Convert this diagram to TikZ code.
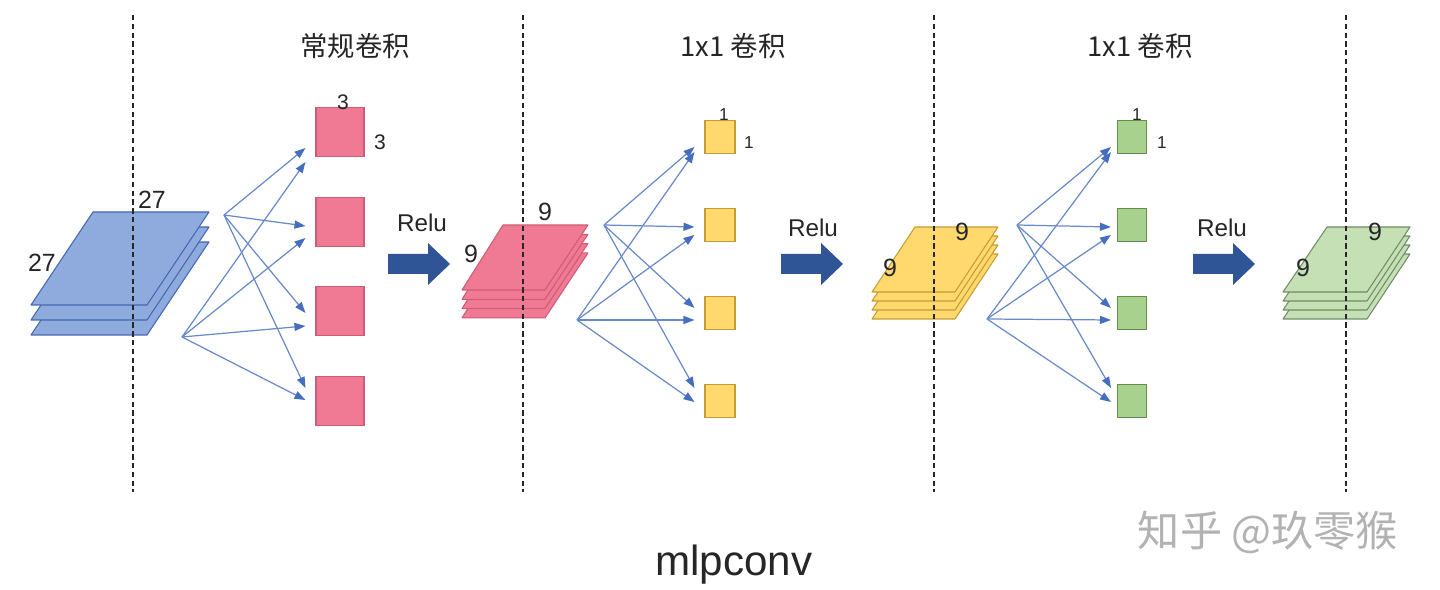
\documentclass[tikz,border=0pt]{standalone}
\usepackage{fontspec}
\setmainfont{Liberation Sans}
\newfontfamily\cjk{Noto Sans CJK SC}
\usetikzlibrary{arrows.meta}
\definecolor{layblue}{RGB}{143,170,220}
\definecolor{edgeblue}{RGB}{68,104,176}
\definecolor{laypink}{RGB}{240,122,148}
\definecolor{edgepink}{RGB}{205,92,118}
\definecolor{layyellow}{RGB}{255,217,110}
\definecolor{edgeyellow}{RGB}{196,158,50}
\definecolor{laygreen}{RGB}{197,224,180}
\definecolor{edgegreen}{RGB}{112,140,104}
\definecolor{boxgreen}{RGB}{169,209,142}
\definecolor{boxgreenedge}{RGB}{100,140,80}
\definecolor{relublue}{RGB}{47,85,151}
\definecolor{linkblue}{RGB}{105,138,200}
\definecolor{linkhead}{RGB}{70,110,190}

\begin{document}
\begin{tikzpicture}
  [x=0.02cm, y=-0.02cm,
   link/.style={linkblue, line width=0.7pt, -{Triangle[length=2.2mm,width=1.6mm,color=linkhead]}},
   layer/.style={line width=0.6pt, line join=round},
   kernel/.style={inner sep=0pt, line width=0.6pt},
   pinkbox/.style={kernel, draw=edgepink, fill=laypink, minimum width=0.96cm, minimum height=0.98cm},
   yellowbox/.style={kernel, draw=edgeyellow, fill=layyellow, minimum width=0.6cm, minimum height=0.66cm},
   greenbox/.style={kernel, draw=boxgreenedge, fill=boxgreen, minimum width=0.58cm, minimum height=0.66cm},
   dimbig/.style={font=\fontsize{14.2}{16}\selectfont, text=black!85, inner sep=0pt},
   dimmid/.style={font=\fontsize{12}{14}\selectfont, text=black!85, inner sep=0pt},
   dimsmall/.style={font=\fontsize{9.8}{12}\selectfont, text=black!85, inner sep=0pt},
   relutext/.style={font=\fontsize{13.8}{16}\selectfont, text=black!85},
   title/.style={font=\cjk\fontsize{15.6}{18}\selectfont, text=black!85},
   sep/.style={black!85, line width=0.6pt, dash pattern=on 3pt off 2pt}]
  \useasboundingbox (0,0) rectangle (1440,590);

  \node[pinkbox] (p1) at (340,132) {};
  \node[pinkbox] (p2) at (340,222) {};
  \node[pinkbox] (p3) at (340,311) {};
  \node[pinkbox] (p4) at (340,401) {};
  \node[yellowbox] (y1) at (720,137) {};
  \node[yellowbox] (y2) at (720,225) {};
  \node[yellowbox] (y3) at (720,313) {};
  \node[yellowbox] (y4) at (720,401) {};
  \node[greenbox] (g1) at (1132,137) {};
  \node[greenbox] (g2) at (1132,225) {};
  \node[greenbox] (g3) at (1132,313) {};
  \node[greenbox] (g4) at (1132,401) {};

  \coordinate (bu) at (224,215);
  \coordinate (bl) at (182,337);
  \coordinate (pu) at (604,225);
  \coordinate (pl) at (577,320);
  \coordinate (yu) at (1017,225);
  \coordinate (yl) at (987,319);

  \foreach \n/\dy in {1/16,2/4,3/2,4/-13}
  \draw[link] (bu) -- ([shift={(-10,\dy)}]p\n.west);
  \foreach \n/\dy in {1/30,2/16,3/15,4/-1}
  \draw[link] (bl) -- ([shift={(-10,\dy)}]p\n.west);
  \foreach \n/\dy in {1/10,2/2,3/-5,4/-13}
  {\draw[link] (pu) -- ([shift={(-10,\dy)}]y\n.west);
   \draw[link] (yu) -- ([shift={(-6,\dy)}]g\n.west);}
  \foreach \n/\dy in {1/15,2/10,3/7,4/1}
  {\draw[link] (pl) -- ([shift={(-10,\dy)}]y\n.west);
   \draw[link] (yl) -- ([shift={(-6,\dy)}]g\n.west);}

  \foreach \k in {2,1,0}
  \draw[layer, draw=edgeblue, fill=layblue] (93,{212+15*\k}) -- ++(116,0) -- ++(-62,93) -- ++(-116,0) -- cycle;
  \foreach \k in {3,2,1,0}
  {\draw[layer, draw=edgepink, fill=laypink] (503,{225+9.3*\k}) -- ++(85,0) -- ++(-43,65) -- ++(-83,0) -- cycle;
   \draw[layer, draw=edgeyellow, fill=layyellow] (915,{227+9*\k}) -- ++(83,0) -- ++(-43,65) -- ++(-83,0) -- cycle;
   \draw[layer, draw=edgegreen, fill=laygreen] (1327,{227+9*\k}) -- ++(83,0) -- ++(-43,65) -- ++(-84,0) -- cycle;}

  \foreach \x in {388,781,1193}
  \fill[relublue] (\x,254) -- ++(40,0) -- ++(0,-11) -- ++(22,21) -- ++(-22,21) -- ++(0,-11) -- ++(-40,0) -- cycle;
  \node[relutext] (r1) at (422,223) {Relu};
  \node[relutext] (r2) at (813,228) {Relu};
  \node[relutext] (r3) at (1222,228) {Relu};

  \node[dimbig] (d1) at (42,263) {27};
  \node[dimbig] (d2) at (152,200) {27};
  \node[dimmid] (d3) at (343,102) {3};
  \node[dimmid] (d4) at (380,142) {3};
  \node[dimbig] (d5) at (471,254) {9};
  \node[dimbig] (d6) at (545,212) {9};
  \node[dimsmall] (d7) at (724,115) {1};
  \node[dimsmall] (d8) at (749,143) {1};
  \node[dimbig] (d9) at (890,268) {9};
  \node[dimbig] (d10) at (962,232) {9};
  \node[dimsmall] (d11) at (1137,115) {1};
  \node[dimsmall] (d12) at (1162,143) {1};
  \node[dimbig] (d13) at (1303,268) {9};
  \node[dimbig] (d14) at (1375,232) {9};

  \node[title] (t1) at (355,46) {常规卷积};
  \node[title] (t2) at (733,46) {1x1 卷积};
  \node[title] (t3) at (1140,46) {1x1 卷积};
  \node[font=\fontsize{24}{28}\selectfont, text=black!85] (cap) at (734,565) {mlpconv};
  \node[font=\cjk\fontsize{24}{28}\selectfont, text=black!30] (mark) at (1268,532) {知乎 @玖零猴};

  \foreach \x in {133,523,934,1346}
  \draw[sep] (\x,15) -- (\x,492);
\end{tikzpicture}
\end{document}
